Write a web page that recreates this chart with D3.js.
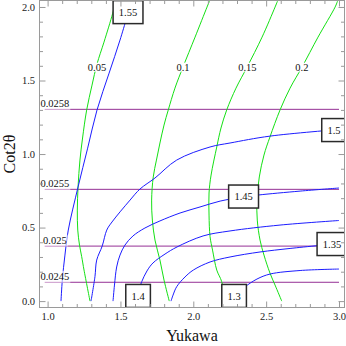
<!DOCTYPE html>
<html>
<head>
<meta charset="utf-8">
<script src="https://cdn.jsdelivr.net/npm/d3@7"></script>
<style>
  html, body { margin: 0; padding: 0; background: #fff; }
  svg { display: block; font-family: "Liberation Serif", "Times New Roman", serif; }
</style>
</head>
<body>
<svg id="chart" width="346" height="346"></svg>
<script>
// Contour plot: Yukawa (x) vs Cot2θ (y). Blue = boxed contours, green = plain
// labelled contours, purple = near-flat contours labelled at the left edge.

const xTicks = [1.0, 1.5, 2.0, 2.5, 3.0];
const yTicks = [0.0, 0.5, 1.0, 1.5, 2.0];

// blue contours, one x/y array per level
const blueLevels = ["1.55", "1.5", "1.45", "1.4", "1.35", "1.3"];
const blueX = [
  [1.092, 1.101, 1.119, 1.142, 1.209, 1.275, 1.339, 1.422, 1.497, 1.576],
  [1.298, 1.325, 1.337, 1.375, 1.406, 1.442, 1.566, 1.634, 1.737, 1.886, 2.115, 2.252, 2.527, 3.0],
  [1.449, 1.459, 1.474, 1.497, 1.531, 1.586, 1.668, 1.771, 1.909, 2.046, 2.184, 2.345, 2.444, 2.733, 3.0],
  [1.614, 1.627, 1.646, 1.682, 1.723, 1.806, 1.888, 2.067, 2.252, 2.595, 3.0],
  [1.847, 1.861, 1.886, 1.943, 2.000, 2.115, 2.252, 2.458, 2.664, 3.0],
  [2.259, 2.280, 2.307, 2.355, 2.437, 2.527, 2.733, 3.0],
];
const blueY = [
  [0, 0.143, 0.313, 0.483, 0.776, 1.04, 1.299, 1.55, 1.775, 2.04],
  [0, 0.166, 0.279, 0.375, 0.483, 0.538, 0.687, 0.762, 0.837, 0.959, 1.048, 1.075, 1.122, 1.167],
  [0, 0.109, 0.232, 0.313, 0.381, 0.443, 0.497, 0.545, 0.599, 0.640, 0.680, 0.708, 0.721, 0.748, 0.769],
  [0, 0.075, 0.132, 0.205, 0.259, 0.320, 0.368, 0.443, 0.477, 0.517, 0.548],
  [0, 0.041, 0.098, 0.164, 0.211, 0.266, 0.300, 0.334, 0.358, 0.392],
  [0, 0.035, 0.062, 0.098, 0.150, 0.184, 0.208, 0.218],
];

// green contours
const greenLevels = ["0.05", "0.1", "0.15", "0.2"];
const greenX = [
  [1.291, 1.250, 1.234, 1.219, 1.207, 1.204, 1.209, 1.222, 1.240, 1.268, 1.305, 1.339, 1.387, 1.447, 1.466],
  [1.835, 1.799, 1.771, 1.737, 1.719, 1.714, 1.725, 1.747, 1.771, 1.799, 1.828, 1.874, 1.929, 2.012, 2.094, 2.111],
  [2.218, 2.195, 2.161, 2.132, 2.115, 2.108, 2.108, 2.122, 2.161, 2.190, 2.229, 2.293, 2.369, 2.472, 2.561, 2.578],
  [2.607, 2.561, 2.526, 2.485, 2.458, 2.439, 2.437, 2.453, 2.485, 2.526, 2.595, 2.664, 2.746, 2.856, 2.973, 2.990],
];
const greenY = [
  [0, 0.211, 0.302, 0.381, 0.483, 0.619, 0.776, 0.959, 1.109, 1.299, 1.469, 1.612, 1.761, 1.958, 2.04],
  [0, 0.143, 0.279, 0.415, 0.551, 0.687, 0.844, 0.959, 1.075, 1.197, 1.299, 1.448, 1.591, 1.795, 1.999, 2.04],
  [0, 0.132, 0.211, 0.347, 0.438, 0.585, 0.735, 0.857, 1.048, 1.177, 1.299, 1.448, 1.591, 1.795, 1.999, 2.04],
  [0, 0.109, 0.191, 0.313, 0.415, 0.551, 0.687, 0.844, 0.993, 1.116, 1.299, 1.448, 1.591, 1.795, 1.999, 2.04],
];

// purple (flat) contours
const purpleLevels = ["0.0258", "0.0255", "0.025", "0.0245"];
const purpleY = [1.304, 0.760, 0.374, 0.128];
const purpleX = [0.98, 3.0];

// ---- layout ----
const xDomain = [0.9444, 3.0377], yDomain = [-0.0435, 2.044];
const plot = { left: 39.5, right: 344.5, top: 0.5, bottom: 307.5 };
// label anchors in data coords
const blueLabelAt = [[1.552, 1.965], [2.966, 1.163], [2.345, 0.711], [1.621, 0.035], [2.952, 0.388], [2.280, 0.035]];
const greenLabelAt = [[1.339, 1.592], [1.929, 1.592], [2.371, 1.592], [2.745, 1.592]];
const purpleLabelX = 1.05;

const svg = d3.select("#chart");
const x = d3.scaleLinear().domain(xDomain).range([plot.left, plot.right]);
const y = d3.scaleLinear().domain(yDomain).range([plot.bottom, plot.top]);

svg.append("defs").append("clipPath").attr("id", "clip")
  .append("rect")
  .attr("x", plot.left).attr("y", plot.top)
  .attr("width", plot.right - plot.left).attr("height", plot.bottom - plot.top);

const line = d3.line().x((d) => x(d[0])).y((d) => y(d[1])).curve(d3.curveCatmullRom.alpha(0.5));
const zip = (xs, ys) => xs.map((v, i) => [v, ys[i]]);

const g = svg.append("g").attr("clip-path", "url(#clip)");

// purple lines
g.selectAll("path.purple").data(purpleY).join("path")
  .attr("class", "purple")
  .attr("fill", "none").attr("stroke", "#952f95").attr("stroke-width", 1)
  .attr("d", (v) => line(purpleX.map((xv) => [xv, v])));

// green lines
g.selectAll("path.green").data(greenLevels).join("path")
  .attr("class", "green")
  .attr("fill", "none").attr("stroke", "#14e014").attr("stroke-width", 1)
  .attr("d", (_, i) => line(zip(greenX[i], greenY[i])));

// blue lines
g.selectAll("path.blue").data(blueLevels).join("path")
  .attr("class", "blue")
  .attr("fill", "none").attr("stroke", "#1c1cff").attr("stroke-width", 1)
  .attr("d", (_, i) => line(zip(blueX[i], blueY[i])));

// purple labels: text above the line at the left, faint white backing
purpleLevels.forEach((lab, i) => {
  const lg = g.append("g");
  const bg = lg.append("rect").attr("fill", "#fff").attr("fill-opacity", 0.6);
  const t = lg.append("text")
    .attr("x", x(purpleLabelX)).attr("y", y(purpleY[i]) - 2.5)
    .attr("text-anchor", "middle").attr("font-size", 10.5).attr("fill", "#111")
    .text(lab);
  const b = t.node().getBBox();
  bg.attr("x", b.x - 1).attr("y", b.y).attr("width", b.width + 2).attr("height", b.height + 1);
});

// green labels: sit on the curve, break it with an opaque backing
greenLevels.forEach((lab, i) => {
  const [lx, ly] = greenLabelAt[i];
  const lg = g.append("g");
  const bg = lg.append("rect").attr("fill", "#fff");
  const t = lg.append("text")
    .attr("x", x(lx)).attr("y", y(ly))
    .attr("text-anchor", "middle").attr("dy", "0.35em")
    .attr("font-size", 10.5).attr("fill", "#111")
    .text(lab);
  const b = t.node().getBBox();
  bg.attr("x", b.x - 1).attr("y", b.y + 1).attr("width", b.width + 2).attr("height", b.height - 2);
});

// blue labels: boxed
blueLevels.forEach((lab, i) => {
  const [lx, ly] = blueLabelAt[i];
  const lg = g.append("g");
  const box = lg.append("rect").attr("fill", "#fff").attr("stroke", "#2a2a2a").attr("stroke-width", 1.5);
  const t = lg.append("text")
    .attr("x", x(lx)).attr("y", y(ly))
    .attr("text-anchor", "middle").attr("dy", "0.35em")
    .attr("font-size", 10.5).attr("fill", "#111")
    .text(lab);
  const w = t.node().getComputedTextLength() + 11.5, h = 23;
  box.attr("x", x(lx) - w / 2).attr("y", y(ly) - h / 2).attr("width", w).attr("height", h);
});

// ---- frame and ticks ----
const frameColor = "#9a9a9a";
const minorX = d3.range(10, 31).map((d) => d / 10).filter((d) => !xTicks.includes(d));
const minorY = d3.range(0, 21).map((d) => d / 10).filter((d) => !yTicks.includes(d));

function styleAxis(sel) {
  sel.select(".domain").remove();
  sel.selectAll(".tick line").attr("stroke", frameColor);
  sel.selectAll(".tick text").attr("fill", "#222").attr("font-size", 10.5)
    .attr("font-family", "Liberation Serif, Times New Roman, serif");
}

const fmt = d3.format(".1f");
svg.append("g").attr("transform", `translate(0,${plot.bottom})`)
  .call(d3.axisBottom(x).tickValues(xTicks).tickFormat(fmt).tickSize(-6).tickPadding(5.5)).call(styleAxis);
svg.append("g").attr("transform", `translate(0,${plot.bottom})`)
  .call(d3.axisBottom(x).tickValues(minorX).tickFormat("").tickSize(-3.5)).call(styleAxis);
svg.append("g").attr("transform", `translate(0,${plot.top})`)
  .call(d3.axisTop(x).tickValues(xTicks).tickFormat("").tickSize(-6)).call(styleAxis);
svg.append("g").attr("transform", `translate(0,${plot.top})`)
  .call(d3.axisTop(x).tickValues(minorX).tickFormat("").tickSize(-3.5)).call(styleAxis);

svg.append("g").attr("transform", `translate(${plot.left},0)`)
  .call(d3.axisLeft(y).tickValues(yTicks).tickFormat(fmt).tickSize(-6).tickPadding(4.5)).call(styleAxis);
svg.append("g").attr("transform", `translate(${plot.left},0)`)
  .call(d3.axisLeft(y).tickValues(minorY).tickFormat("").tickSize(-3.5)).call(styleAxis);
svg.append("g").attr("transform", `translate(${plot.right},0)`)
  .call(d3.axisRight(y).tickValues(yTicks).tickFormat("").tickSize(-6)).call(styleAxis);
svg.append("g").attr("transform", `translate(${plot.right},0)`)
  .call(d3.axisRight(y).tickValues(minorY).tickFormat("").tickSize(-3.5)).call(styleAxis);

svg.append("rect")
  .attr("x", plot.left).attr("y", plot.top)
  .attr("width", plot.right - plot.left).attr("height", plot.bottom - plot.top)
  .attr("fill", "none").attr("stroke", frameColor).attr("stroke-width", 1);

// axis titles
svg.append("text")
  .attr("x", (plot.left + plot.right) / 2).attr("y", 341)
  .attr("text-anchor", "middle").attr("font-size", 16).attr("fill", "#111")
  .text("Yukawa");
svg.append("text")
  .attr("transform", `translate(15,${(plot.top + plot.bottom) / 2}) rotate(-90)`)
  .attr("text-anchor", "middle").attr("font-size", 16).attr("fill", "#111")
  .text("Cot2θ");
</script>
</body>
</html>
